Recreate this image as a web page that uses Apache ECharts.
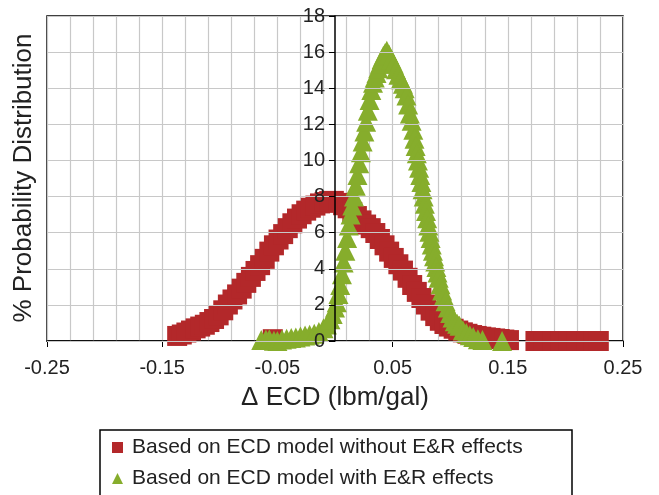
<!DOCTYPE html>
<html>
<head>
<meta charset="utf-8">
<script src="https://cdn.jsdelivr.net/npm/echarts@6/dist/echarts.min.js"></script>
<style>
  html, body { margin: 0; padding: 0; background: #fff; }
  #chart { width: 659px; height: 495px; }
</style>
</head>
<body>
<div id="chart"></div>
<script>
// ECD change (lbm/gal) vs % probability
const withoutER = [
  [-0.137, 0.28], [-0.133, 0.36], [-0.129, 0.47], [-0.125, 0.58], [-0.121, 0.70],
  [-0.117, 0.80], [-0.113, 0.90], [-0.109, 1.05], [-0.105, 1.22], [-0.101, 1.42],
  [-0.097, 1.70], [-0.093, 2.02], [-0.089, 2.30], [-0.085, 2.58], [-0.081, 2.90],
  [-0.077, 3.22], [-0.073, 3.55], [-0.069, 3.88], [-0.065, 4.20], [-0.061, 4.55],
  [-0.057, 4.95], [-0.053, 5.30], [-0.049, 5.62], [-0.045, 5.92], [-0.041, 6.25],
  [-0.037, 6.52], [-0.033, 6.78], [-0.029, 7.02], [-0.025, 7.22], [-0.021, 7.38],
  [-0.017, 7.50], [-0.013, 7.62], [-0.009, 7.70], [-0.005, 7.75], [-0.001, 7.76],
  [0.003, 7.65], [0.007, 7.52], [0.011, 7.35], [0.015, 7.15], [0.019, 6.92],
  [0.023, 6.68], [0.027, 6.45], [0.031, 6.25], [0.035, 5.98], [0.039, 5.65],
  [0.043, 5.30], [0.047, 4.95], [0.051, 4.60], [0.055, 4.25], [0.059, 3.90],
  [0.063, 3.50], [0.067, 3.10], [0.071, 2.72], [0.075, 2.38], [0.079, 2.02],
  [0.083, 1.68], [0.087, 1.38], [0.091, 1.12], [0.095, 0.94], [0.099, 0.80],
  [0.103, 0.68], [0.107, 0.58], [0.111, 0.48], [0.115, 0.40], [0.119, 0.33],
  [0.123, 0.28], [0.127, 0.24], [0.131, 0.20], [0.135, 0.17], [0.139, 0.14],
  [0.143, 0.11], [0.147, 0.08], [0.151, 0.05],
  [0.174, 0], [0.181, 0], [0.189, 0], [0.196, 0], [0.203, 0], [0.210, 0],
  [0.218, 0], [0.224, 0], [0.229, 0],
  [-0.054, 0.10]
];
const withER = [
  [-0.064, 0.05], [-0.060, 0.08], [-0.057, 0.10], [-0.053, 0.02], [-0.050, 0.00],
  [-0.046, 0.08], [-0.042, 0.12], [-0.038, 0.16], [-0.034, 0.20], [-0.030, 0.25],
  [-0.026, 0.30], [-0.022, 0.35], [-0.018, 0.40], [-0.014, 0.50], [-0.010, 0.70],
  [-0.007, 0.92], [-0.004, 1.20], [-0.002, 1.50], [0.000, 1.85], [0.0015, 2.15],
  [0.003, 2.6], [0.0045, 3.1], [0.006, 3.7], [0.0075, 4.35], [0.009, 5.0],
  [0.0105, 5.7], [0.012, 6.4], [0.0135, 7.0], [0.015, 7.5], [0.0165, 8.0],
  [0.018, 8.6], [0.0195, 9.2], [0.021, 9.85], [0.0225, 10.45], [0.024, 11.05],
  [0.0255, 11.6], [0.027, 12.15], [0.0285, 12.75], [0.030, 13.35], [0.0315, 13.9],
  [0.033, 14.3], [0.0345, 14.6], [0.036, 14.85], [0.0375, 15.1], [0.039, 15.35],
  [0.0405, 15.6], [0.042, 15.8], [0.0435, 15.95], [0.045, 16.07],
  [0.047, 15.85], [0.049, 15.6], [0.051, 15.35], [0.053, 15.05], [0.055, 14.75],
  [0.057, 14.5], [0.059, 14.25], [0.0605, 14.0], [0.062, 13.6], [0.0635, 13.1],
  [0.065, 12.6], [0.0665, 12.2], [0.068, 11.7], [0.069, 11.2], [0.070, 10.8],
  [0.071, 10.4], [0.072, 10.0], [0.073, 9.6], [0.074, 9.2], [0.075, 8.8],
  [0.076, 8.4], [0.077, 8.0], [0.078, 7.6], [0.079, 7.2], [0.080, 6.8],
  [0.081, 6.4], [0.082, 6.05], [0.083, 5.7], [0.084, 5.35], [0.085, 5.0],
  [0.086, 4.7], [0.087, 4.4], [0.088, 4.1], [0.089, 3.8], [0.090, 3.5],
  [0.0915, 3.15], [0.093, 2.8], [0.0945, 2.5], [0.096, 2.2], [0.098, 1.85],
  [0.100, 1.55], [0.102, 1.3], [0.104, 1.1], [0.106, 0.95], [0.108, 0.85],
  [0.111, 0.6], [0.114, 0.45], [0.117, 0.32], [0.120, 0.22], [0.124, 0.10],
  [0.128, 0.05], [0.145, 0.0]
];
const seriesNames = ['Based on ECD model without E&R effects', 'Based on ECD model with E&R effects'];
const xRange = [-0.25, 0.25];
const yRange = [0, 18];

const chart = echarts.init(document.getElementById('chart'));
const font = 'Liberation Sans, Arial, sans-serif';

chart.setOption({
  animation: false,
  textStyle: { fontFamily: font },
  grid: {
    left: 47, right: 36, top: 16, bottom: 154,
    show: true, borderColor: '#000', borderWidth: 1.5
  },
  graphic: [{
    type: 'rect',
    shape: { x: 100, y: 430, width: 472, height: 80 },
    style: { fill: 'none', stroke: '#000', lineWidth: 1.5 }
  }, {
    type: 'text',
    x: 24, y: 178, rotation: Math.PI / 2,
    style: {
      text: '% Probability Distribution', font: '26px ' + font, fill: '#222',
      align: 'center', verticalAlign: 'middle'
    }
  }],
  legend: {
    orient: 'vertical',
    left: 112, top: 437,
    padding: 0,
    itemGap: 10,
    itemWidth: 11, itemHeight: 11,
    textStyle: { fontSize: 21, color: '#222', fontFamily: font, padding: [0, 0, 0, 4] },
    data: [
      { name: seriesNames[0], icon: 'rect' },
      { name: seriesNames[1], icon: 'triangle' }
    ]
  },
  xAxis: [{
    type: 'value', min: xRange[0], max: xRange[1], interval: 0.02,
    axisLine: { show: false, onZero: false }, axisTick: { show: false }, axisLabel: { show: false },
    splitLine: { show: true, lineStyle: { color: '#c8c8c8', width: 1.2 } }
  }, {
    type: 'value', min: xRange[0], max: xRange[1], interval: 0.1,
    position: 'bottom',
    name: 'Δ ECD (lbm/gal)', nameLocation: 'middle', nameGap: 44,
    nameTextStyle: { fontSize: 26, color: '#222' },
    axisLine: { show: true, onZero: false, lineStyle: { color: '#000', width: 1.5 } },
    axisTick: { show: true, length: 6, lineStyle: { color: '#000' } },
    axisLabel: { fontSize: 20, color: '#222', margin: 17 },
    splitLine: { show: false }
  }],
  yAxis: {
    type: 'value', min: yRange[0], max: yRange[1], interval: 2,
    position: 'left', offset: -288, z: 10,
    axisLine: { show: true, onZero: false, lineStyle: { color: '#000', width: 1.5 } },
    axisTick: { show: true, length: 6, lineStyle: { color: '#000' } },
    axisLabel: { fontSize: 20, color: '#222', margin: 10 },
    splitLine: { show: true, lineStyle: { color: '#c8c8c8', width: 1.2 } }
  },
  series: [{
    name: seriesNames[0], type: 'scatter', xAxisIndex: 0,
    symbol: 'rect', symbolSize: 20,
    itemStyle: { color: '#b3282a', opacity: 1 },
    data: withoutER
  }, {
    name: seriesNames[1], type: 'scatter', xAxisIndex: 0,
    symbol: 'triangle', symbolSize: 20,
    itemStyle: { color: '#86ad2c', opacity: 1 },
    data: withER
  }]
});
</script>
</body>
</html>
